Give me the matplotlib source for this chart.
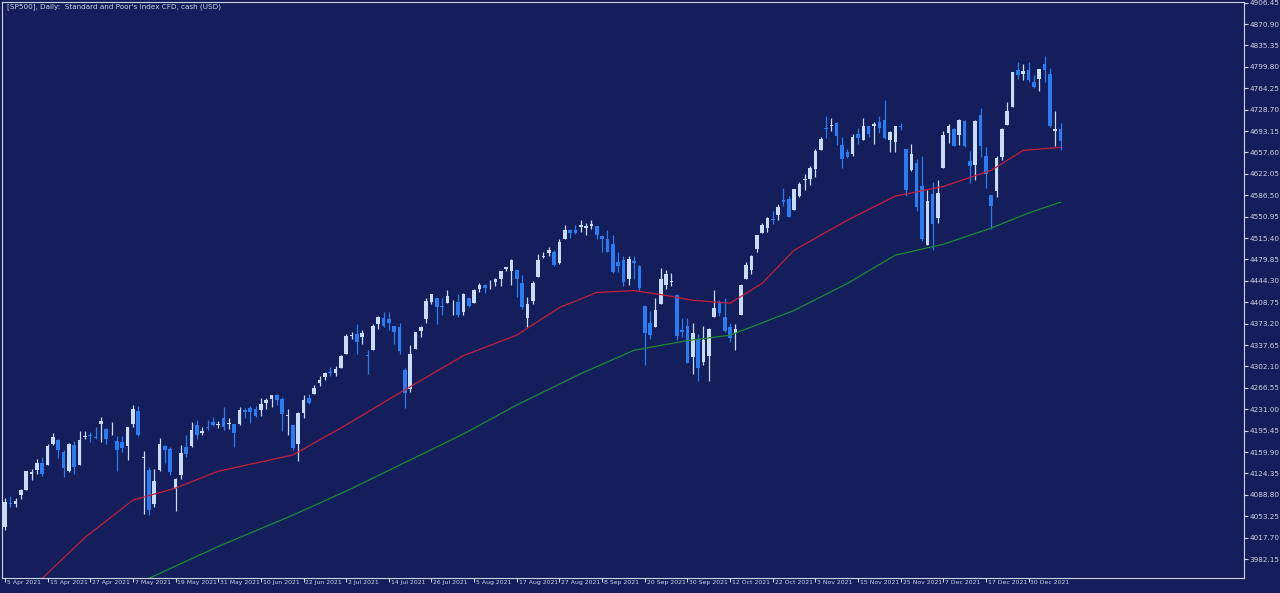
import numpy as np
import pandas as pd
import matplotlib as mpl
import matplotlib.pyplot as plt

# daily candles, 5 Apr 2021 .. 7 Jan 2022 (weekdays, 24 Dec skipped)
opens = [4035,4075,4074,4089,4096,4124,4130,4141,4139,4174,4180,4160,4129,4171,4139,4185,4188,4185,4206,4198,
         4191,4179,4177,4170,4206,4228,4150,4130,4074,4130,4170,4165,4098,4121,4168,4170,4205,4192,4201,4210,4205,
         4216,4207,4206,4207,4229,4233,4232,4229,4242,4248,4255,4248,4220,4204,4173,4225,4249,4256,4274,4284,4293,4291,
         4300,4322,4352,4356,4351,4321,4330,4372,4382,4381,4369,4367,4296,4265,4331,4361,4381,4409,4416,4403,4407,4395,
         4409,4392,4415,4408,4430,4437,4435,4442,4447,4464,4461,4462,4440,4382,4410,4450,4484,4490,4493,4474,4514,4529,
         4528,4534,4532,4536,4535,4518,4513,4506,4475,4479,4447,4477,4469,4402,4375,4367,4406,4438,4443,4420,4362,4370,
         4317,4348,4310,4320,4384,4407,4385,4368,4358,4387,4448,4463,4497,4524,4532,4547,4553,4579,4581,4562,4586,
         4611,4614,4630,4662,4699,4702,4707,4670,4659,4655,4689,4679,4701,4701,4708,4712,4679,4675,4701,4664,4628,4640,
         4602,4504,4589,4548,4631,4690,4697,4687,4710,4643,4637,4720,4652,4587,4594,4650,4703,4733,4795,4788,4795,4775,
         4779,4804,4788,4693,4697]
highs = [4084,4086,4083,4098,4129,4131,4148,4151,4173,4191,4181,4164,4175,4179,4194,4194,4193,4201,4218,4199,
         4209,4187,4187,4202,4238,4236,4162,4135,4131,4183,4171,4169,4117,4172,4188,4209,4213,4202,4213,4218,4212,
         4234,4217,4207,4234,4233,4236,4237,4249,4249,4255,4257,4252,4232,4204,4226,4255,4256,4271,4286,4292,4301,4302,
         4321,4356,4359,4372,4362,4330,4372,4386,4393,4393,4369,4375,4300,4337,4359,4369,4415,4422,4416,4416,4429,4412,
         4422,4424,4416,4430,4440,4439,4445,4449,4461,4468,4480,4462,4454,4418,4444,4489,4492,4501,4496,4513,4537,4531,
         4537,4545,4541,4546,4535,4521,4529,4521,4492,4485,4486,4486,4471,4402,4394,4416,4465,4463,4457,4422,4383,4383,
         4375,4356,4369,4366,4429,4413,4415,4374,4372,4439,4475,4488,4520,4540,4551,4560,4572,4598,4585,4597,4608,
         4621,4635,4664,4683,4718,4714,4708,4684,4664,4688,4698,4714,4701,4708,4718,4744,4694,4702,4706,4664,4672,4646,
         4652,4596,4608,4612,4694,4705,4698,4713,4711,4660,4712,4732,4667,4587,4651,4698,4741,4791,4807,4805,4808,4787,
         4797,4818,4798,4726,4707]
lows = [4030,4068,4068,4082,4096,4114,4124,4120,4139,4171,4150,4119,4126,4124,4138,4182,4176,4181,4176,4174,
        4188,4128,4160,4147,4202,4187,4057,4056,4069,4129,4142,4122,4062,4115,4151,4168,4182,4188,4197,4203,4200,
        4197,4198,4168,4205,4217,4208,4218,4220,4232,4234,4238,4195,4188,4164,4145,4217,4240,4256,4270,4280,4287,4287,
        4300,4322,4348,4322,4340,4289,4329,4365,4367,4362,4340,4322,4233,4259,4331,4351,4375,4405,4372,4387,4407,4387,
        4385,4387,4400,4408,4425,4424,4430,4436,4436,4461,4437,4417,4397,4367,4406,4450,4482,4486,4469,4473,4513,4515,
        4522,4526,4521,4530,4513,4493,4492,4457,4459,4435,4438,4447,4427,4305,4347,4367,4406,4430,4436,4346,4351,4307,
        4289,4278,4304,4278,4384,4386,4360,4342,4329,4387,4448,4456,4492,4524,4526,4538,4546,4569,4551,4562,4583,
        4595,4604,4616,4662,4681,4694,4670,4631,4648,4651,4672,4679,4684,4672,4690,4680,4659,4659,4695,4585,4626,4560,
        4510,4504,4495,4540,4631,4674,4668,4670,4667,4606,4612,4650,4598,4531,4583,4645,4703,4733,4780,4778,4775,4765,
        4759,4774,4700,4668,4662]
closes = [4077,4073,4079,4097,4128,4127,4141,4124,4170,4185,4163,4134,4173,4135,4180,4187,4186,4183,4211,4181,
          4192,4164,4167,4201,4232,4188,4152,4063,4112,4173,4163,4127,4115,4159,4156,4197,4188,4195,4200,4204,4206,
          4202,4208,4192,4229,4226,4227,4219,4239,4247,4255,4246,4223,4221,4166,4224,4246,4241,4266,4280,4291,4291,4297,
          4319,4352,4355,4343,4358,4320,4369,4384,4369,4374,4360,4327,4258,4323,4359,4367,4411,4422,4401,4400,4419,4395,
          4387,4423,4402,4429,4437,4432,4436,4447,4460,4468,4479,4448,4400,4405,4441,4479,4486,4496,4470,4509,4529,4523,
          4524,4537,4535,4538,4520,4514,4493,4459,4469,4443,4481,4474,4433,4358,4355,4395,4448,4455,4443,4352,4360,4308,
          4357,4300,4346,4364,4399,4391,4361,4350,4364,4438,4471,4486,4520,4537,4549,4545,4567,4575,4551,4597,4605,
          4614,4631,4660,4680,4697,4702,4685,4647,4650,4683,4682,4701,4689,4705,4698,4682,4691,4701,4700,4595,4655,4567,
          4513,4577,4538,4591,4687,4701,4668,4712,4669,4635,4710,4669,4621,4568,4649,4697,4726,4791,4786,4793,4778,4766,
          4797,4794,4701,4696,4677]

# moving averages at a few bars
ma_red_idx = [7, 15, 24, 32, 40, 54, 64, 74, 86, 96, 104, 111, 118, 124, 129, 136, 142, 148, 158, 167, 176, 185, 191, 198]
ma_red_val = [3950, 4018, 4080, 4100, 4128, 4155, 4205, 4258, 4320, 4354, 4400, 4425, 4428, 4420, 4412, 4407, 4440,
              4495, 4545, 4585, 4601, 4628, 4661, 4666]
ma_green_idx = [27, 40, 54, 64, 74, 86, 96, 108, 118, 128, 136, 148, 158, 167, 176, 185, 192, 198]
ma_green_val = [3950, 4003, 4055, 4095, 4138, 4190, 4238, 4290, 4329, 4345, 4354, 4395, 4440, 4487, 4505, 4532, 4557, 4575]

days = pd.bdate_range('2021-04-05', '2022-01-07')
days = days[days != pd.Timestamp('2021-12-24')]

yticks = [3982.15 + 35.55 * k for k in range(27)]

bg = '#131e5b'
bull = '#c9dcf6'
bear = '#2a7cf0'
fg = '#d0d4e4'

fig = plt.figure(figsize=(12.8, 5.93), dpi=100, facecolor=bg)
ax = fig.add_axes([2 / 1280, 1 - 578 / 593, 1242 / 1280, 576 / 593], facecolor=bg)

x = np.arange(len(closes))
for i in x:
    o, h, l, c = opens[i], highs[i], lows[i], closes[i]
    col = bull if c >= o else bear
    ax.vlines(i, l, h, color=col, lw=0.9)
    ax.bar(i, max(abs(c - o), 0.8), bottom=min(o, c), width=0.68, color=col, lw=0)

ax.plot(ma_red_idx, ma_red_val, color='#c8203c', lw=0.9)
ax.plot(ma_green_idx, ma_green_val, color='#1f8a35', lw=0.9)

ax.set_xlim(-0.56, 232.4)
ax.set_ylim(3950.6, 4907.5)

ax.yaxis.tick_right()
ax.set_yticks(yticks)
ax.set_yticklabels(['%.2f' % v for v in yticks])
ax.tick_params(axis='y', colors=fg, labelsize=5.2, length=3, pad=1)

xt = list(range(0, len(closes), 8))
ax.set_xticks(xt)
ax.set_xticklabels([''] * len(xt))
ax.tick_params(axis='x', colors=fg, length=3)
for i in xt:
    ax.text(i + 0.35, 3950.6 - 4, days[i].strftime('%-d %b %Y'), color=fg, fontsize=4.4,
            ha='left', va='top')

for s in ax.spines.values():
    s.set_color(fg)
    s.set_linewidth(0.8)

ax.text(0.004, 0.997, "[SP500], Daily:  Standard and Poor's Index CFD, cash (USD)",
        transform=ax.transAxes, color=fg, fontsize=5.2, va='top', ha='left')

fig.savefig('out.png', dpi=100, facecolor=bg)
